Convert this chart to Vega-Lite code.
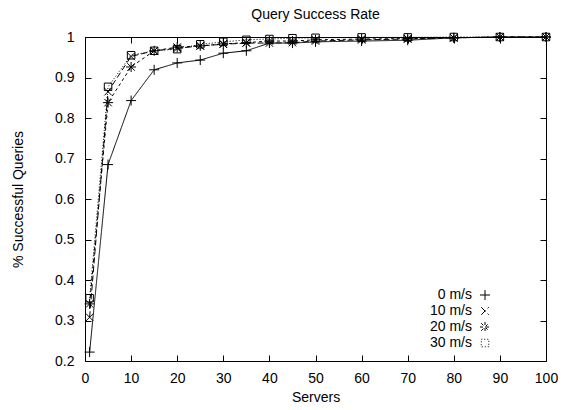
{
  "$schema": "https://vega.github.io/schema/vega-lite/v6.json",
  "width": 461,
  "height": 324,
  "autosize": {"type": "none"},
  "padding": {"left": 85, "top": 37, "right": 15, "bottom": 49},
  "background": "white",
  "config": {
    "view": {"stroke": "black", "strokeWidth": 1},
    "font": "Liberation Sans",
    "axis": {
      "labelFont": "Liberation Sans",
      "labelFontSize": 14,
      "labelColor": "black",
      "tickColor": "black",
      "tickSize": -6,
      "domain": false,
      "grid": false,
      "titleFont": "Liberation Sans",
      "titleFontSize": 14,
      "titleFontWeight": "normal",
      "titleColor": "black"
    },
    "legend": {
      "title": null,
      "padding": 0,
      "rowPadding": 2,
      "symbolSize": 100,
      "labelFont": "Liberation Sans",
      "labelFontSize": 14,
      "labelColor": "black",
      "labelAlign": "right",
      "labelOffset": -20,
      "symbolStrokeColor": "black",
      "symbolFillColor": "transparent",
      "symbolStrokeWidth": 1
    }
  },
  "title": {
    "text": "Query Success Rate",
    "fontSize": 14,
    "fontWeight": "normal",
    "font": "Liberation Sans",
    "color": "black",
    "frame": "group",
    "anchor": "middle",
    "offset": 0,
    "dy": 3,
    "baseline": "alphabetic"
  },
  "data": {
    "values": [
      {"servers": 1, "rate": 0.222, "speed": "0 m/s"},
      {"servers": 5, "rate": 0.685, "speed": "0 m/s"},
      {"servers": 10, "rate": 0.843, "speed": "0 m/s"},
      {"servers": 15, "rate": 0.919, "speed": "0 m/s"},
      {"servers": 20, "rate": 0.936, "speed": "0 m/s"},
      {"servers": 25, "rate": 0.943, "speed": "0 m/s"},
      {"servers": 30, "rate": 0.96, "speed": "0 m/s"},
      {"servers": 35, "rate": 0.966, "speed": "0 m/s"},
      {"servers": 40, "rate": 0.985, "speed": "0 m/s"},
      {"servers": 45, "rate": 0.985, "speed": "0 m/s"},
      {"servers": 50, "rate": 0.988, "speed": "0 m/s"},
      {"servers": 60, "rate": 0.99, "speed": "0 m/s"},
      {"servers": 70, "rate": 0.992, "speed": "0 m/s"},
      {"servers": 80, "rate": 0.998, "speed": "0 m/s"},
      {"servers": 90, "rate": 1.0, "speed": "0 m/s"},
      {"servers": 100, "rate": 1.0, "speed": "0 m/s"},
      {"servers": 1, "rate": 0.308, "speed": "10 m/s"},
      {"servers": 5, "rate": 0.865, "speed": "10 m/s"},
      {"servers": 10, "rate": 0.952, "speed": "10 m/s"},
      {"servers": 15, "rate": 0.966, "speed": "10 m/s"},
      {"servers": 20, "rate": 0.972, "speed": "10 m/s"},
      {"servers": 25, "rate": 0.978, "speed": "10 m/s"},
      {"servers": 30, "rate": 0.982, "speed": "10 m/s"},
      {"servers": 35, "rate": 0.985, "speed": "10 m/s"},
      {"servers": 40, "rate": 0.985, "speed": "10 m/s"},
      {"servers": 45, "rate": 0.986, "speed": "10 m/s"},
      {"servers": 50, "rate": 0.99, "speed": "10 m/s"},
      {"servers": 60, "rate": 0.993, "speed": "10 m/s"},
      {"servers": 70, "rate": 0.995, "speed": "10 m/s"},
      {"servers": 80, "rate": 0.998, "speed": "10 m/s"},
      {"servers": 90, "rate": 1.0, "speed": "10 m/s"},
      {"servers": 100, "rate": 1.0, "speed": "10 m/s"},
      {"servers": 1, "rate": 0.341, "speed": "20 m/s"},
      {"servers": 5, "rate": 0.838, "speed": "20 m/s"},
      {"servers": 10, "rate": 0.926, "speed": "20 m/s"},
      {"servers": 15, "rate": 0.966, "speed": "20 m/s"},
      {"servers": 20, "rate": 0.975, "speed": "20 m/s"},
      {"servers": 25, "rate": 0.978, "speed": "20 m/s"},
      {"servers": 30, "rate": 0.983, "speed": "20 m/s"},
      {"servers": 35, "rate": 0.986, "speed": "20 m/s"},
      {"servers": 40, "rate": 0.99, "speed": "20 m/s"},
      {"servers": 45, "rate": 0.99, "speed": "20 m/s"},
      {"servers": 50, "rate": 0.993, "speed": "20 m/s"},
      {"servers": 60, "rate": 0.995, "speed": "20 m/s"},
      {"servers": 70, "rate": 0.996, "speed": "20 m/s"},
      {"servers": 80, "rate": 0.998, "speed": "20 m/s"},
      {"servers": 90, "rate": 1.0, "speed": "20 m/s"},
      {"servers": 100, "rate": 1.0, "speed": "20 m/s"},
      {"servers": 1, "rate": 0.355, "speed": "30 m/s"},
      {"servers": 5, "rate": 0.877, "speed": "30 m/s"},
      {"servers": 10, "rate": 0.955, "speed": "30 m/s"},
      {"servers": 15, "rate": 0.966, "speed": "30 m/s"},
      {"servers": 20, "rate": 0.97, "speed": "30 m/s"},
      {"servers": 25, "rate": 0.982, "speed": "30 m/s"},
      {"servers": 30, "rate": 0.988, "speed": "30 m/s"},
      {"servers": 35, "rate": 0.993, "speed": "30 m/s"},
      {"servers": 40, "rate": 0.995, "speed": "30 m/s"},
      {"servers": 45, "rate": 0.997, "speed": "30 m/s"},
      {"servers": 50, "rate": 0.998, "speed": "30 m/s"},
      {"servers": 60, "rate": 0.999, "speed": "30 m/s"},
      {"servers": 70, "rate": 0.999, "speed": "30 m/s"},
      {"servers": 80, "rate": 1.0, "speed": "30 m/s"},
      {"servers": 90, "rate": 1.0, "speed": "30 m/s"},
      {"servers": 100, "rate": 1.0, "speed": "30 m/s"}
    ]
  },
  "layer": [
    {
      "mark": {"type": "line", "stroke": "black", "strokeWidth": 1},
      "encoding": {
        "x": {
          "field": "servers", "type": "quantitative",
          "scale": {"domain": [0, 100], "nice": false},
          "axis": {
            "orient": "bottom",
            "values": [0, 10, 20, 30, 40, 50, 60, 70, 80, 90, 100],
            "labelPadding": 16,
            "labelFlush": false,
            "title": "Servers",
            "titleX": 230.5,
            "titleY": 40,
            "titleAlign": "center",
            "titleBaseline": "alphabetic"
          }
        },
        "y": {
          "field": "rate", "type": "quantitative",
          "scale": {"domain": [0.2, 1], "nice": false, "zero": false},
          "axis": {
            "orient": "left",
            "values": [0.2, 0.3, 0.4, 0.5, 0.6, 0.7, 0.8, 0.9, 1],
            "format": "~g",
            "labelPadding": 17,
            "title": "% Successful Queries",
            "titleX": -66.5,
            "titleY": 162,
            "titleAlign": "center",
            "titleBaseline": "middle",
            "titleAngle": 270
          }
        },
        "strokeDash": {
          "field": "speed", "type": "nominal",
          "scale": {"domain": ["0 m/s", "10 m/s", "20 m/s", "30 m/s"], "range": [[1, 0], [6, 3], [3, 3], [1, 2]]},
          "legend": {
            "orient": "none",
            "legendX": 393,
            "legendY": 251,
            "encoding": {
              "symbols": {
                "shape": {"value": {"expr": "datum.value === '0 m/s' ? 'M-1,0L8.6,0M3.8,-1L3.8,1' : datum.value === '10 m/s' ? 'M-1,0L8.6,0M3.05,-0.75L4.55,0.75M3.05,0.75L4.55,-0.75' : datum.value === '20 m/s' ? 'M-1,0L8.6,0M3.8,-1L3.8,1M3.05,-0.75L4.55,0.75M3.05,0.75L4.55,-0.75' : 'M-1,0L3.05,0M4.55,0L8.6,0M3.05,-0.75L4.55,-0.75L4.55,0.75L3.05,0.75Z'"}},
                "strokeDash": {"value": {"expr": "datum.value === '10 m/s' ? [6,3] : datum.value === '20 m/s' ? [3,3] : datum.value === '30 m/s' ? [1,2] : [1,0]"}}
              }
            }
          }
        }
      }
    },
    {
      "mark": {"type": "point", "filled": false, "stroke": "black", "strokeWidth": 1, "size": 100, "opacity": 1},
      "encoding": {
        "x": {
          "field": "servers", "type": "quantitative",
          "axis": {"orient": "top", "values": [0, 10, 20, 30, 40, 50, 60, 70, 80, 90, 100], "labels": false, "title": null}
        },
        "y": {
          "field": "rate", "type": "quantitative",
          "axis": {"orient": "right", "values": [0.2, 0.3, 0.4, 0.5, 0.6, 0.7, 0.8, 0.9, 1], "labels": false, "title": null}
        },
        "shape": {
          "field": "speed", "type": "nominal",
          "scale": {
            "domain": ["0 m/s", "10 m/s", "20 m/s", "30 m/s"],
            "range": [
              "M-1,0L1,0M0,-1L0,1",
              "M-0.75,-0.75L0.75,0.75M-0.75,0.75L0.75,-0.75",
              "M-1,0L1,0M0,-1L0,1M-0.75,-0.75L0.75,0.75M-0.75,0.75L0.75,-0.75",
              "M-0.75,-0.75L0.75,-0.75L0.75,0.75L-0.75,0.75Z"
            ]
          },
          "legend": {
            "orient": "none",
            "legendX": 393,
            "legendY": 251,
            "encoding": {
              "symbols": {
                "shape": {"value": {"expr": "datum.value === '0 m/s' ? 'M-1,0L8.6,0M3.8,-1L3.8,1' : datum.value === '10 m/s' ? 'M-1,0L8.6,0M3.05,-0.75L4.55,0.75M3.05,0.75L4.55,-0.75' : datum.value === '20 m/s' ? 'M-1,0L8.6,0M3.8,-1L3.8,1M3.05,-0.75L4.55,0.75M3.05,0.75L4.55,-0.75' : 'M-1,0L3.05,0M4.55,0L8.6,0M3.05,-0.75L4.55,-0.75L4.55,0.75L3.05,0.75Z'"}},
                "strokeDash": {"value": {"expr": "datum.value === '10 m/s' ? [6,3] : datum.value === '20 m/s' ? [3,3] : datum.value === '30 m/s' ? [1,2] : [1,0]"}}
              }
            }
          }
        }
      }
    }
  ],
  "resolve": {"axis": {"x": "independent", "y": "independent"}}
}
